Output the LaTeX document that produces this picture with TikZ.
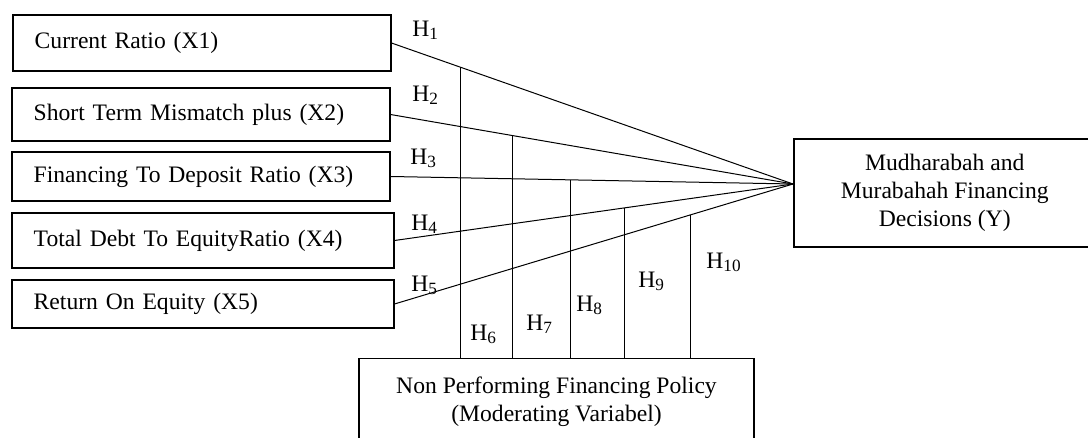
\documentclass[tikz,border=0pt]{standalone}
\usepackage{fontspec}
\setmainfont{Liberation Serif}
\usetikzlibrary{calc}
\newcommand{\hsub}[1]{\raisebox{-0.12em}{\fontsize{8.6}{9}\selectfont #1}}
\begin{document}
\begin{tikzpicture}[x=0.5pt,y=-0.5pt,
  every node/.style={font=\fontsize{11.8}{14}\selectfont},
  varbox/.style={draw, line width=0.75pt, text width=167pt, align=left, inner xsep=11pt, inner ysep=0pt, anchor=west},
  ybox/.style={draw, line width=0.75pt, align=center, minimum width=151pt, minimum height=54pt, anchor=west, inner sep=0pt},
  mbox/.style={draw, line width=0.75pt, align=center, minimum width=197.5pt, anchor=north, inner xsep=0pt, inner ysep=9.2pt},
  link/.style={line width=0.5pt},
  hlab/.style={anchor=base west, inner sep=0pt}]
\useasboundingbox (0,0) rectangle (1088,438);
\clip (0,0) rectangle (1088,438);

% independent variables
\node[varbox, minimum height=28pt] (x1) at (12,43) {Current Ratio (X1)};
\node[varbox, minimum height=26.5pt] (x2) at (11,114.5) {Short Term Mismatch plus (X2)};
\node[varbox, minimum height=24.5pt] (x3) at (11,176.5) {Financing To Deposit Ratio (X3)};
\node[varbox, text width=169pt, minimum height=27.5pt] (x4) at (11,240.5) {Total Debt To EquityRatio (X4)};
\node[varbox, text width=169pt, minimum height=24pt] (x5) at (11,304) {Return On Equity (X5)};

% dependent variable
\node[ybox] (y) at (793,193) {Mudharabah and\\Murabahah Financing\\Decisions (Y)};

% moderating variable
\node[mbox] (m) at (556.5,358) {Non Performing Financing Policy\\(Moderating Variabel)};

% convergence point
\coordinate (c) at (793,184);

\draw[link] (x1.east) -- (c);
\draw[link] (x2.east) -- (c);
\draw[link] (x3.east) -- (c);
\draw[link] (x4.east) -- (c);
\draw[link] (x5.east) -- (c);

% moderating verticals
\coordinate (p1) at ($(x1.east)!0.1712!(c)$);
\coordinate (p2) at ($(x2.east)!0.3027!(c)$);
\coordinate (p3) at ($(x3.east)!0.4467!(c)$);
\coordinate (p4) at ($(x4.east)!0.5775!(c)$);
\coordinate (p5) at ($(x5.east)!0.7425!(c)$);
\foreach \i in {1,...,5} {
  \draw[link] (p\i) -- (p\i |- m.north);
}

% hypothesis labels
\node[hlab] (h1) at (412,37) {H\hsub{1}};
\node[hlab] (h2) at (412,102) {H\hsub{2}};
\node[hlab] (h3) at (410,165) {H\hsub{3}};
\node[hlab] (h4) at (411,231) {H\hsub{4}};
\node[hlab] (h5) at (411,292) {H\hsub{5}};
\node[hlab] (h6) at (470,341) {H\hsub{6}};
\node[hlab] (h7) at (526,331) {H\hsub{7}};
\node[hlab] (h8) at (576,312) {H\hsub{8}};
\node[hlab] (h9) at (638,288) {H\hsub{9}};
\node[hlab] (h10) at (706,269) {H\hsub{10}};
\end{tikzpicture}
\end{document}
